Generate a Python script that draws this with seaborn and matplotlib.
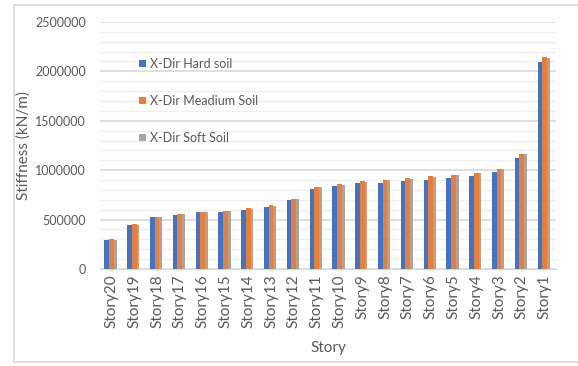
import pandas as pd
import numpy as np
import matplotlib
matplotlib.use('Agg')
import matplotlib.pyplot as plt
import matplotlib.ticker as mticker
import seaborn as sns

# ── Data ────────────────────────────────────────────────────
stories = ['Story20', 'Story19', 'Story18', 'Story17', 'Story16', 'Story15',
           'Story14', 'Story13', 'Story12', 'Story11', 'Story10', 'Story9',
           'Story8', 'Story7', 'Story6', 'Story5', 'Story4', 'Story3',
           'Story2', 'Story1']
hard_soil = [297000, 450000, 523000, 550000, 573000, 580000, 597000, 630000,
             697000, 810000, 840000, 868000, 875000, 890000, 900000, 923000,
             940000, 985000, 1125000, 2090000]
medium_soil = [300000, 452000, 530000, 557000, 580000, 590000, 615000, 643000,
               713000, 830000, 857000, 888000, 900000, 917000, 937000, 953000,
               973000, 1017000, 1165000, 2150000]
soft_soil = [298000, 450000, 527000, 554000, 577000, 587000, 611000, 640000,
             709000, 826000, 853000, 884000, 896000, 913000, 933000, 949000,
             969000, 1012000, 1160000, 2140000]
series_names = ['X-Dir Hard soil', 'X-Dir Meadium Soil', 'X-Dir Soft Soil']
colors = ['#4472C4', '#ED7D31', '#A5A5A5']

df = pd.DataFrame({
    'Story': stories * 3,
    'Stiffness': hard_soil + medium_soil + soft_soil,
    'Series': np.repeat(series_names, len(stories)),
})

# ── Style ───────────────────────────────────────────────────
sns.set_style("white")
plt.rcParams['font.family'] = ['Lato', 'DejaVu Sans']
text_grey = '#595959'

fig = plt.figure(figsize=(5.78, 3.66), dpi=100)
ax = fig.add_axes([0.173, 0.265, 0.789, 0.675])

sns.barplot(data=df, x='Story', y='Stiffness', hue='Series',
            order=stories, hue_order=series_names, palette=colors,
            width=0.62, gap=0, saturation=1, linewidth=0, ax=ax, zorder=3)

# grey series looks like a thin strip behind the orange bars
for bar in ax.containers[2]:
    bar.set_width(bar.get_width() * 0.6)

ax.set_ylim(0, 2500000)
ax.set_xlim(-0.5, len(stories) - 0.5)
ax.yaxis.set_major_locator(mticker.MultipleLocator(500000))
ax.yaxis.set_minor_locator(mticker.MultipleLocator(100000))
ax.yaxis.set_major_formatter(mticker.FuncFormatter(lambda v, p: f'{int(v)}'))
ax.grid(axis='y', which='major', color='#D9D9D9', linewidth=1.2, zorder=0)
ax.grid(axis='y', which='minor', color='#EFEFEF', linewidth=0.9, zorder=0)
ax.set_axisbelow(True)

for s in ['top', 'right', 'left']:
    ax.spines[s].set_visible(False)
ax.spines['bottom'].set_color('#D9D9D9')

ax.tick_params(axis='both', which='both', length=0, colors=text_grey)
ax.tick_params(axis='y', pad=10, labelsize=9)
ax.tick_params(axis='x', pad=4, labelsize=11)
plt.setp(ax.get_xticklabels(), rotation=90)

ax.set_ylabel('Stiffness (kN/m)', fontsize=11, color=text_grey, labelpad=3)
ax.set_xlabel('Story', fontsize=11, color=text_grey)
ax.xaxis.set_label_coords(0.5, -0.29)

ax.legend(loc='upper left', bbox_to_anchor=(0.06, 0.90), frameon=False,
          fontsize=9, labelcolor=text_grey, handlelength=0.6,
          handleheight=0.6, handletextpad=0.3, labelspacing=2.0)

# light chart border like the spreadsheet frame
fig.add_artist(plt.Rectangle((0.024, 0.01), 1.2, 0.975, transform=fig.transFigure,
                             fill=False, edgecolor='#D9D9D9', linewidth=1.2))

plt.savefig('out.png', dpi=100)
